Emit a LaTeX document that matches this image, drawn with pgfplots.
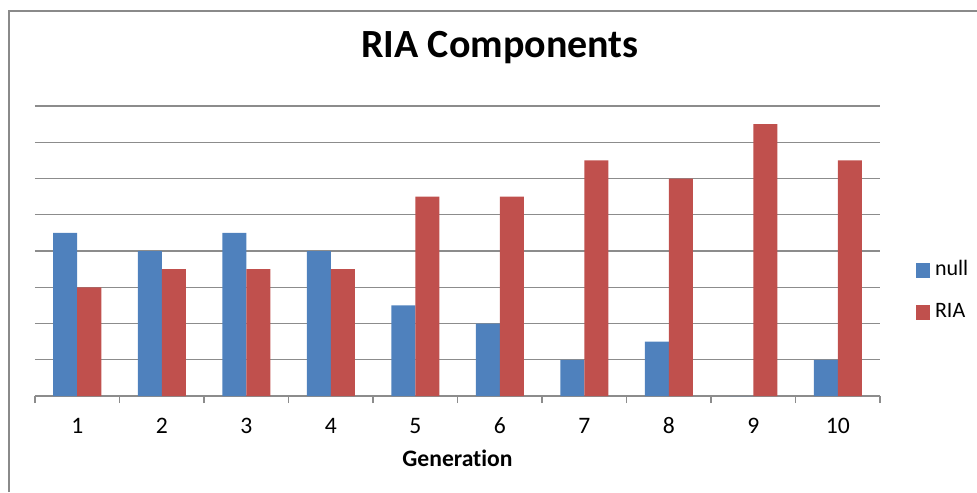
\documentclass[border=0pt]{standalone}
\usepackage{pgfplots}
\pgfplotsset{compat=1.18}
\usepackage{fontspec}
\setmainfont[Ligatures=NoCommon]{Carlito}
\definecolor{nullblue}{HTML}{4F81BD}
\definecolor{riared}{HTML}{C0504D}
\definecolor{gridgray}{HTML}{8C8C8C}
\definecolor{framegray}{HTML}{8A8A8A}
\begin{document}
\begin{tikzpicture}
\useasboundingbox (0,0) rectangle (488.5pt,246pt);
% outer chart frame (left and top edges)
\draw[framegray, line width=1.2pt] (4.5pt,0pt) -- (4.5pt,240.5pt) -- (488.5pt,240.5pt);
% title
\node[anchor=base, font=\fontsize{20}{24}\selectfont\bfseries] at (250pt,217pt) {RIA Components};
\begin{axis}[
  at={(17.5pt,48pt)}, anchor=south west,
  scale only axis, width=422.5pt, height=145pt,
  xmin=0.5, xmax=10.5, ymin=0, ymax=8,
  enlargelimits=false,
  ybar=0pt, bar width=12pt,
  axis x line*=bottom, axis y line*=left,
  x axis line style={-, draw=gridgray, line width=0.6pt},
  y axis line style={draw=none},
  xtick={1,...,10},
  major x tick style={draw=none},
  minor xtick={0.5,1.5,...,10.5},
  minor x tick style={draw=gridgray, line width=0.6pt},
  minor tick length=3.5pt,
  tick align=outside,
  ytick={1,...,8}, yticklabels={},
  ytick style={draw=none},
  ymajorgrids, grid style={draw=gridgray, line width=0.6pt},
  /pgf/number format/assume math mode=true,
  xticklabel style={anchor=base, yshift=-14.5pt, font=\fontsize{11.8}{14}\selectfont},
  xlabel={Generation},
  xlabel style={at={(axis description cs:0.5,0)}, anchor=base, yshift=-35pt, font=\fontsize{11.8}{14}\selectfont\bfseries},
  legend style={draw=none, fill=none, at={(axis description cs:1.0426,0.362)}, anchor=west,
    inner sep=0pt, outer sep=0pt, row sep=12pt, column sep=2.5pt,
    nodes={inner sep=0pt, text height=7pt, text depth=2pt, font=\fontsize{11}{13}\selectfont},
    cells={anchor=west}},
  legend image code/.code={\fill[#1] (0pt,-3.75pt) rectangle (7pt,3.75pt);},
]
\addplot[fill=nullblue, draw=none] coordinates {
  (1,4.5) (2,4) (3,4.5) (4,4) (5,2.5) (6,2) (7,1) (8,1.5) (9,0) (10,1)};
\addplot[fill=riared, draw=none] coordinates {
  (1,3) (2,3.5) (3,3.5) (4,3.5) (5,5.5) (6,5.5) (7,6.5) (8,6) (9,7.5) (10,6.5)};
\legend{null, RIA}
\end{axis}
\end{tikzpicture}
\end{document}
